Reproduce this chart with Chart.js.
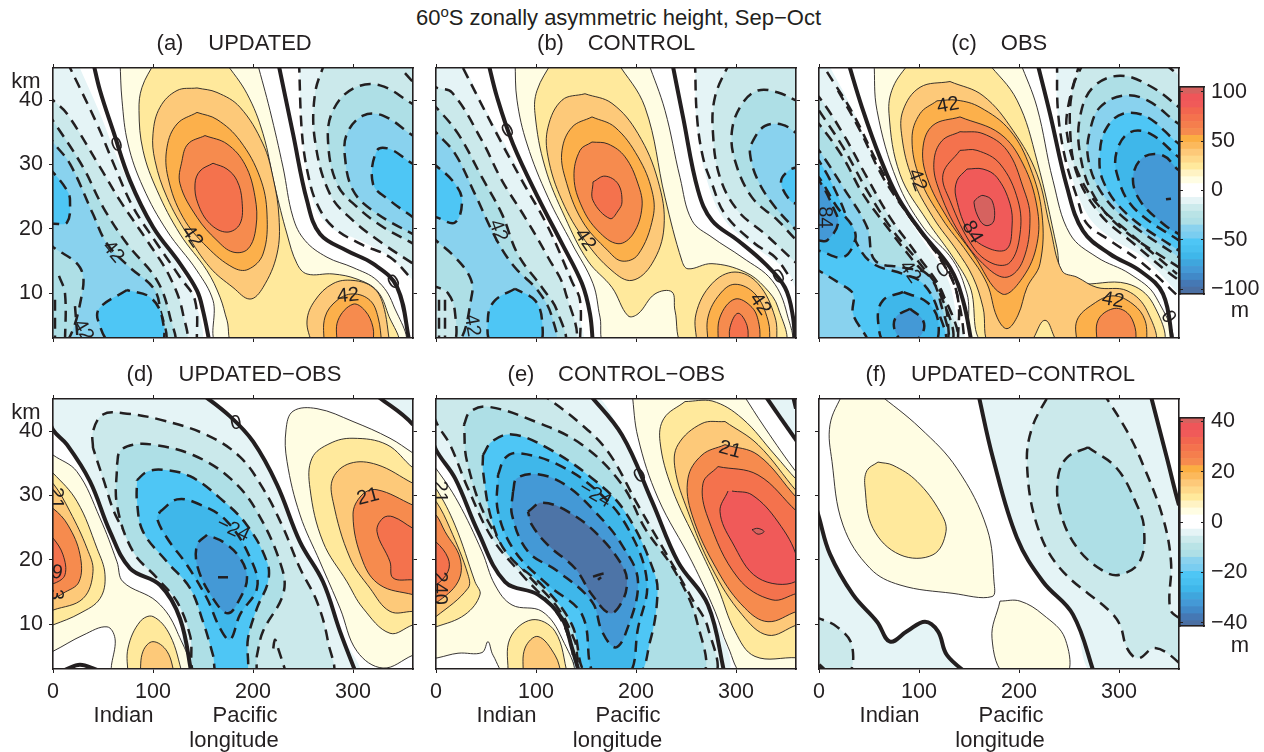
<!DOCTYPE html>
<html>
<head>
<meta charset="utf-8">
<title>60S zonally asymmetric height</title>
<script src="https://cdn.jsdelivr.net/npm/chart.js@4"></script>
<style>
  html, body { margin: 0; padding: 0; background: #fff; }
  body { position: relative; width: 1264px; height: 752px; overflow: hidden; }
  canvas { position: absolute; }
  .txt { position: absolute; transform: translate(-50%, -50%); white-space: nowrap; color: #231f20;
         font: 22px "Liberation Sans", Arial, sans-serif; }
  .txt sup { font-size: 15px; vertical-align: 8px; line-height: 0; }
</style>
</head>
<body>
<script>
// axis ticks
const lonTicks = [0, 100, 200, 300];
const kmTicks = [10, 20, 30, 40];
const barTicksTop = [-100, -50, 0, 50, 100];
const barTicksBottom = [-40, -20, 0, 20, 40];

// colour bar bands (metres), low to high
const barEdgesTop = [-105,-98,-91,-84,-77,-70,-63,-56,-49,-42,-35,-28,-21,-14,-7,0,7,14,21,28,35,42,49,56,63,70,77,84,91,98,105];
const barEdgesBottom = [-42,-39.2,-36.4,-33.6,-30.8,-28,-25.2,-22.4,-19.6,-16.8,-14,-11.2,-8.4,-5.6,-2.8,0,2.8,5.6,8.4,11.2,14,16.8,19.6,22.4,25.2,28,30.8,33.6,36.4,39.2,42];
const barColors = ["#4a6fa3","#4578b4","#4189c8","#4499d6","#3fa6dd","#3fb7ea","#48c0f0","#4ec6f5","#7acdf0","#8ad2ee","#aedfe6","#b9e3e6","#cceaec","#e5f4f6","#ffffff","#ffffff","#fffde3","#fff3c4","#ffe99c","#fed98a","#fdc979","#fcb95c","#fbae42","#f68b4e","#f57e4d","#f4724d","#f2664f","#f05a59","#ef5659","#d6625f"];

// shading step -> colour
const bandColors = {
  "-8":"#4d74a7","-7":"#4499d6","-6":"#3fb7ea","-5":"#4ec6f5","-4":"#89d2ee","-3":"#aedfe6","-2":"#cbe9eb","-1":"#e5f4f6",
  "1":"#fffde3","2":"#ffe99c","3":"#fdc979","4":"#fcb04b","5":"#f68b4e","6":"#f4724d","7":"#f05a59","8":"#d6625f"
};

// (a) UPDATED: [band, [lon, km] outline]
const aShades = [
  [-1,[[24,46],[47,37.9],[67,30.1],[94,21.8],[124,14.6],[142,8.9],[144,2],[-6,2],[-6,46]]],
  [-2,[[-6,41],[0,40],[14,37.9],[47,29.6],[67,24.4],[94,18.2],[117,12.5],[130,6.8],[130,2],[-6,2]]],
  [-3,[[-6,38],[0,36.8],[30,29.6],[50,23.4],[74,17.7],[104,12],[117,6.3],[119,2],[-6,2]]],
  [-4,[[-6,35],[0,33.5],[17,30.1],[40,22.3],[54,17.7],[77,14],[100,10.9],[107,7.8],[109,2],[-6,2]]],
  [-3,[[-6,18],[0,17.2],[27,14],[29,9.9],[12,2],[-6,2]]],
  [-5,[[-6,29.5],[0,28.8],[14,26],[17,24.4],[14,21],[0,20.8],[-6,20.8]]],
  [-5,[[74,10.5],[47,7.8],[45,5.8],[60,2],[107,2],[109,6.3],[97,9.4],[74,10.5]]],
  [-1,[[246,46],[249,34.8],[260,24.4],[277,20.3],[307,18.2],[337,15.6],[360,12],[366,11],[366,46]]],
  [-2,[[272,46],[262,41],[262,33.7],[277,25.4],[300,21.3],[330,17.7],[360,14.6],[366,14],[366,46]]],
  [-3,[[366,39],[360,39.4],[327,42.3],[300,41.8],[280,38.4],[275,33.7],[284,27],[304,23.4],[330,20.3],[360,17.7],[366,17]]],
  [-4,[[366,34],[360,34.5],[330,37.6],[310,37.6],[294,34.8],[292,31.1],[300,26],[320,22.8],[360,19.2],[366,19]]],
  [-5,[[366,30],[360,30.1],[337,32.4],[324,32.2],[320,27],[337,24.4],[360,21.8],[366,21]]],
  [1,[[67,46],[69,40],[75,33.2],[90,26.5],[114,19.7],[144,13.5],[160,8.9],[167,2],[349,2],[340,8.3],[324,12],[300,14],[274,15.6],[252,18.2],[240,21.8],[230,29.6],[217,38.4],[204,46]]],
  [2,[[102,46],[89,42],[86,38.4],[90,32.2],[104,26],[127,19.2],[154,13.5],[167,9.4],[174,5.8],[182,2],[343,2],[335,6.8],[324,10.4],[304,12.2],[280,13],[254,13],[244,14.6],[234,19.2],[222,26.5],[210,34.8],[194,41],[172,46]]],
  [3,[[144,41.9],[124,41.5],[107,38.9],[100,34.8],[102,30.6],[114,24.9],[134,19.2],[157,14],[180,10.9],[197,9.1],[210,10.9],[224,16.1],[226,21.8],[220,28],[210,33.2],[187,38.9],[164,41.2],[144,41.9]]],
  [4,[[144,38.1],[124,36.3],[114,32.7],[115,28],[130,21.8],[154,17.2],[180,14],[195,13.7],[210,16.1],[214,22.3],[207,28],[187,33.7],[164,37],[144,38.1]]],
  [5,[[152,34.5],[135,33.2],[129,30.6],[127,27],[144,21.8],[164,18.2],[180,16.4],[195,16.9],[203,20.3],[202,25],[192,30],[174,33.2],[152,34.5]]],
  [6,[[160,30.2],[147,29],[142,27],[145,23.9],[157,20.8],[174,19.5],[187,20.8],[189,24.4],[184,27.5],[174,29.3],[160,30.2]]],
  [3,[[259,2],[254,5.7],[262,8.9],[280,11.5],[300,12],[320,10.9],[330,8.3],[337,2]]],
  [4,[[271,2],[272,6.3],[284,8.9],[300,9.9],[317,8.9],[325,6.3],[329,2]]],
  [5,[[284,2],[285,5.8],[300,8.3],[312,7.3],[320,4.7],[320,2]]]
];
const aZero = [
  [[40,46],[47,41.5],[60,35.3],[77,27.5],[100,20.3],[127,14.6],[144,10.4],[150,7.3],[157,2]],
  [[225,46],[240,34.8],[254,24.4],[267,19.2],[294,16.6],[320,14.6],[344,11],[357,2]]
];
const aDash = [
  [[14,46],[44,36.3],[62,29.6],[80,23.4],[104,17.7],[127,12.5],[142,8.9],[144,2]],
  [[246,46],[249,34.8],[255,28.5],[264,23.9],[280,20.3],[307,17.7],[337,15.6],[360,12]],
  [[352,44.2],[360,42.8]],
  [[6,12.7],[12,10],[12,2]],
  [[2,9],[2,2]],
  [[22,8],[25,2]]
];
const aLabels = [["0",64,33,-20],["42",60,16.4,50],["42",139,18.8,55],["42",295,9.6,-5],["0",341,11.7,-30],["42",30,4.2,60]];

// (b) CONTROL
const bShades = [
  [-1,[[26,46],[52,37.9],[76,31.2],[102,23.4],[122,17.2],[139,11.5],[144,6.3],[144,2],[-6,2],[-6,46]]],
  [-2,[[-6,43],[0,42],[16,41.2],[46,33.7],[66,27.5],[89,21.8],[112,15.6],[129,10.4],[135,2],[-6,2]]],
  [-3,[[-6,39.5],[0,38.9],[22,34.8],[46,28],[66,22.3],[82,16],[106,10.9],[121,7.3],[126,2],[-6,2]]],
  [-4,[[-6,36],[0,35],[19,31.7],[39,25.4],[61,18.2],[79,14],[102,10.4],[116,6.3],[117,2],[-6,2]]],
  [-3,[[-6,19],[0,18.2],[19,15.6],[34,12.5],[36,9.9],[21,2],[-6,2]]],
  [-2,[[-6,11],[0,11],[12,10],[19,7],[17,2],[-6,2]]],
  [-5,[[-6,30],[0,29.8],[19,27],[26,24.4],[19,21],[0,21.8],[-6,22]]],
  [-5,[[79,10.7],[59,8.9],[52,6.3],[57,2],[102,2],[106,5.8],[99,8.9],[79,10.7]]],
  [-1,[[259,46],[261,35.8],[272,27],[289,21.3],[319,17.2],[351,13.5],[361,10.4],[366,10],[366,46]]],
  [-2,[[294,46],[279,40.5],[277,34.8],[284,28],[302,22.8],[329,19.2],[361,14.6],[366,14],[366,46]]],
  [-3,[[366,39.6],[361,39.9],[342,41.2],[322,41.5],[306,39.4],[296,35.3],[299,30.6],[316,24.9],[342,21.3],[361,18.2],[366,18]]],
  [-4,[[366,34],[361,34.8],[346,36.2],[329,36],[317,33.7],[314,31.7],[322,27.5],[339,23.4],[361,19.7],[366,19]]],
  [-5,[[366,29.8],[361,29.6],[352,29],[345,27.3],[354,24.4],[361,23.9],[366,23.9]]],
  [1,[[79,46],[81,40],[91,33.2],[112,24.9],[136,17.7],[157,11.5],[164,6.3],[171,2],[352,2],[351,6.8],[336,12],[306,15.6],[276,18.7],[256,21.3],[244,28],[229,38.4],[212,46]]],
  [2,[[116,46],[101,41.5],[99,37.9],[109,29.6],[129,21.8],[152,15],[176,10.9],[192,6.5],[202,6.8],[219,9.9],[236,10.2],[239,7.3],[249,2],[347,2],[342,7.8],[329,10.9],[309,13.3],[276,14.6],[252,13.8],[246,15],[229,24.9],[209,38.9],[181,46]]],
  [3,[[149,41],[126,40],[112,35.8],[112,31.2],[126,24.4],[149,18.2],[176,13.5],[196,12],[216,14.6],[228,20.3],[222,27.5],[202,34.8],[176,39.5],[149,41]]],
  [4,[[156,37.4],[136,35.8],[126,32.2],[129,28],[146,21.3],[172,16.6],[186,15],[202,16],[217,21.8],[216,25.9],[202,31.2],[179,35.8],[156,37.4]]],
  [5,[[156,33.5],[144,32.2],[138,28],[146,23.4],[162,19.7],[182,17.7],[197,19.2],[206,23.4],[202,27],[189,31.2],[172,33.2],[156,33.5]]],
  [6,[[157,27.3],[157,24.4],[174,21.6],[182,22.8],[186,24.2],[182,27],[169,28.2],[157,27.3]]],
  [3,[[261,2],[260,6.8],[276,11.5],[299,13.3],[322,11.5],[339,6.3],[341,2]]],
  [4,[[272,2],[272,6.3],[284,9.9],[299,11.4],[319,9.9],[332,5.8],[334,2]]],
  [5,[[282,2],[284,6.3],[299,9.1],[316,7.8],[323,5.2],[324,2]]],
  [6,[[294,2],[294,4.7],[302,6.9],[311,5],[312,2]]]
];
const bZero = [
  [[52,46],[61,40.5],[77,33.2],[102,24.9],[126,17.7],[146,11.5],[154,6.8],[157,2]],
  [[236,46],[247,37.4],[262,26],[276,21.3],[302,18.2],[329,14.6],[349,10.9],[357,6.3],[359,2]]
];
const bDash = [
  [[27,45],[59,35.3],[86,27.5],[112,20.3],[136,11.8],[144,8.9],[144,2]],
  [[259,46],[261,37.4],[267,31.1],[276,27],[289,22.3],[319,17.7],[339,15.6],[356,12]],
  [[9,9],[9,2]],
  [[3,9],[3,2]]
];
const bLabels = [["0",72,35.2,-30],["42",149,18.3,55],["42",62,19.7,70],["0",343,12.5,-30],["42",324,8.3,55],["42",36,5,80]];

// (c) OBS
const cShades = [
  [-1,[[8,46],[34,38.4],[54,31.1],[78,24.4],[104,18.2],[128,12.5],[138,6.3],[144,2],[-6,2],[-6,46]]],
  [-2,[[-6,41],[0,40.5],[24,34.8],[48,28],[71,21.8],[98,16],[124,9.9],[134,2],[-6,2]]],
  [-3,[[-6,37],[0,36.3],[24,31.1],[44,25.4],[71,19.7],[94,15.1],[121,9.9],[129,2],[-6,2]]],
  [-4,[[-6,33],[0,32.2],[24,26.5],[48,20.3],[56,15.1],[84,14],[108,13],[121,8.9],[124,2],[-6,2]]],
  [-5,[[-6,31],[0,30.6],[21,24.4],[38,17.7],[54,14.6],[84,13],[104,11.5],[119,7.3],[123,2],[-6,2]]],
  [-4,[[-6,14],[0,13.5],[21,11.5],[34,9.9],[34,6.8],[48,2],[-6,2]]],
  [-6,[[-6,28.5],[0,28],[18,23.4],[34,20.3],[36,18.2],[24,15.6],[0,16.6],[-6,16.6]]],
  [-7,[[-6,27.7],[0,27.5],[14,23.4],[19,20.8],[8,18.2],[0,18.2],[-6,18.2]]],
  [-6,[[84,10.2],[64,8.9],[59,5.8],[68,2],[114,2],[119,5.8],[108,8.6],[84,10.2]]],
  [-7,[[91,7.6],[77,6.3],[76,4.2],[88,2],[103,3.7],[104,5.8],[91,7.6]]],
  [-1,[[237,46],[239,37.4],[248,30.6],[268,22.3],[291,18.7],[324,15.6],[360,9.9],[366,9],[366,46]]],
  [-2,[[265,46],[254,42],[251,35.8],[258,28.5],[281,22.3],[311,18.2],[360,12],[366,12],[366,42],[344,46]]],
  [-3,[[366,38],[360,38.9],[331,42.2],[301,43.8],[274,42],[261,37.4],[261,31.7],[274,25.4],[301,20.3],[360,14],[366,13.5]]],
  [-4,[[366,36],[360,36.3],[328,40],[304,40.7],[281,38.9],[271,35.3],[269,31.1],[281,26],[308,21.3],[360,15.6],[366,15]]],
  [-5,[[366,33],[360,33.2],[328,37.4],[304,37.9],[288,35.8],[281,32.2],[284,27.5],[308,22.3],[360,16.6],[366,16]]],
  [-6,[[366,30.5],[360,31.1],[331,34.8],[311,35],[298,32.2],[298,28.5],[314,23.4],[360,18.2],[366,18]]],
  [-7,[[366,29],[360,29.1],[344,31.4],[324,31.1],[314,28],[321,24.4],[344,20.8],[360,19.2],[366,19]]],
  [1,[[55,46],[58,38.4],[78,27.5],[104,20.3],[134,15.1],[148,9.9],[159,2],[349,2],[337,9.4],[311,13],[278,15.6],[251,19.2],[234,27.5],[218,38.9],[201,46]]],
  [2,[[91,46],[74,42],[70,37.9],[81,28.5],[108,21.3],[134,15.6],[151,11],[168,2],[341,2],[334,8.4],[308,11.5],[258,11.5],[243,12.8],[238,17],[218,30.6],[198,40],[168,46]]],
  [3,[[131,42.9],[101,42],[84,38.4],[83,34.2],[93,28],[114,21.8],[138,16.6],[154,12.5],[164,7.8],[171,2],[208,2],[226,5.8],[243,2],[334,2],[328,7.3],[308,10.4],[278,10.9],[258,12.5],[243,13.5],[231,20.3],[218,28.5],[194,35.3],[164,40.7],[131,42.9]]],
  [4,[[118,39.9],[101,37.9],[93,34],[101,27.8],[123,21.6],[148,16.4],[168,11.5],[178,6.3],[188,4.5],[199,6.6],[208,10.9],[221,14.6],[223,22.3],[211,29.6],[191,35.3],[161,38.9],[138,40],[118,39.9]]],
  [5,[[141,37.4],[114,36.1],[104,32.7],[108,28],[128,21.8],[154,16.1],[183,9.9],[204,12.5],[218,17.7],[218,23.4],[204,30.1],[181,34.8],[141,37.4]]],
  [6,[[141,35.1],[123,33.7],[115,30.6],[119,26.5],[141,19.2],[168,14],[188,12.5],[204,15.1],[211,21.8],[204,26.5],[188,32.2],[164,34.8],[141,35.1]]],
  [6,[[141,32.2],[124,28.5],[131,24.4],[154,17.2],[174,14.6],[191,14.8],[201,19.2],[199,24.4],[181,30.1],[158,32.2],[141,32.2]]],
  [7,[[148,29.3],[138,27.5],[137,24.9],[151,19.2],[171,16.9],[188,16.9],[193,20.3],[191,23.9],[178,28],[164,29.3],[148,29.3]]],
  [8,[[159,24.9],[164,25.2],[173,24.4],[175,21.3],[168,20.5],[161,21.3],[155,24.1],[159,24.9]]],
  [4,[[258,2],[258,5.8],[274,8.3],[294,9.6],[314,8.3],[326,5.8],[328,2]]],
  [5,[[278,2],[279,5.8],[294,7.6],[308,7],[316,4.7],[317,2]]]
];
const cZero = [
  [[29,46],[43,38.9],[61,31.1],[79,24.9],[104,19.2],[131,14],[144,8.9],[153,2]],
  [[218,46],[231,37.9],[248,26.5],[264,19.7],[291,16.1],[321,13.5],[344,9.9],[354,2]]
];
const cDash = [
  [[8,44.4],[34,37.9],[59,30.1],[84,23.4],[108,18.2],[131,13],[141,7.8],[146,2]],
  [[19,41.5],[41,35.3],[64,28],[91,21.8],[118,16.1],[138,9.9],[139,2]],
  [[0,38.4],[24,32.7],[48,26],[74,19.7],[101,14.6],[124,9.4],[131,2]],
  [[238,46],[239,38.2],[246,31.1],[258,24.9],[268,20.8],[291,18.2],[324,14.6],[360,9.4]],
  [[261,46],[249,38.9],[248,34.8],[258,29.1],[278,23.9],[308,19.7],[358,13]],
  [[347,24.6],[352,24.7]]
];
const cLabels = [["42",129,39.2,-10],["42",98,27.6,70],["84",153,19.5,60],["0",124,13.5,-30],["42",91,13.3,55],["84",6,21.8,90],["42",294,8.9,10],["0",349,6.3,60]];

// (d) UPDATED-OBS
const dShades = [
  [-1,[[-6,43],[0,40.2],[14,37.9],[37,32.2],[57,24.4],[77,18.7],[107,16.1],[127,10.9],[139,2],[304,2],[287,8.9],[270,16.6],[247,22.8],[224,31.7],[200,38.4],[177,42.3],[147,46],[-6,46]]],
  [-1,[[324,46],[360,41],[366,38],[366,46]]],
  [-2,[[40,37.4],[40,40],[50,42.6],[70,42.8],[107,41.8],[154,39.4],[187,36],[210,31.1],[229,25.4],[247,18.7],[264,13.5],[275,7.3],[277,2],[154,2],[150,6.8],[144,10.4],[134,14.6],[114,17.7],[87,21.3],[64,26.5],[50,32.7],[40,37.4]]],
  [-3,[[64,34.8],[67,36.9],[80,37.9],[100,37.9],[140,36.3],[177,32.7],[204,27.5],[229,18.7],[230,14.6],[210,8.9],[204,5.2],[200,2],[144,2],[137,8.3],[124,13.5],[104,17.2],[80,21.3],[64,28.5],[64,34.8]]],
  [-5,[[84,32.4],[94,33.7],[110,34],[137,33],[167,29.6],[194,25.4],[214,19.7],[215,16.6],[204,12.5],[195,7.8],[192,2],[165,2],[160,5.2],[150,10.4],[137,15.6],[114,19.7],[90,24.4],[84,29],[84,32.4]]],
  [-6,[[107,27.5],[124,29.4],[144,28.8],[174,26],[199,19.7],[204,15.6],[187,11.5],[177,7.6],[167,9.4],[154,14],[134,19.2],[114,23.4],[104,26.5],[107,27.5]]],
  [-7,[[154,23.9],[144,22.3],[145,18.7],[160,14],[175,11.7],[187,14],[194,17.2],[187,20.3],[170,22.8],[154,23.9]]],
  [1,[[366,36],[360,36.6],[337,38.9],[300,41.5],[264,43.5],[240,43.1],[233,40.2],[234,35.3],[247,27],[267,19.7],[287,12.5],[304,5.8],[330,3.2],[360,5.2],[366,5.5]]],
  [2,[[366,34],[360,34.3],[334,37.9],[300,38.9],[277,38.1],[259,35.8],[257,31.1],[270,22.8],[294,16.6],[310,12.5],[337,8.6],[360,9.9],[366,10]]],
  [3,[[366,31.5],[360,31.9],[324,34.8],[297,35],[280,32.7],[280,29.1],[297,20.3],[317,15.6],[337,12],[360,12],[366,12]]],
  [5,[[366,28],[360,28.5],[324,30.9],[309,30.1],[300,27],[310,19.7],[327,16.1],[360,14.6],[366,14.5]]],
  [6,[[366,24.5],[360,24.9],[340,26.7],[330,26.5],[324,24.4],[337,19.7],[340,17.2],[360,16.9],[366,16.9]]],
  [1,[[-6,37],[0,36.3],[24,33.7],[47,26.5],[64,19.7],[70,16.6],[104,13.5],[124,8.9],[135,2],[62,2],[62,7.8],[54,9.6],[30,8.3],[0,5.8],[-6,5.5]]],
  [2,[[-6,34],[0,33.5],[24,29.1],[44,21.8],[52,17.7],[47,14],[27,11.7],[0,9.9],[-6,9.7]]],
  [3,[[-6,32],[0,31.9],[17,27.5],[34,21.8],[40,18.2],[30,14],[0,12.2],[-6,12]]],
  [5,[[-6,28],[0,28],[15,25.4],[27,20.8],[26,16.6],[10,14.8],[0,14],[-6,14]]],
  [6,[[-6,24],[0,23.4],[10,20.8],[12,17.7],[2,16.4],[-6,16.4]]],
  [2,[[75,2],[75,6.3],[87,10.4],[100,11.2],[117,8.3],[130,2]]],
  [3,[[87,2],[90,5.8],[100,7.3],[114,5.8],[122,2]]]
];
const dZero = [
  [[-6,43],[0,40.2],[14,37.9],[37,32.2],[57,24.4],[77,18.7],[107,16.1],[127,10.9],[139,2]],
  [[147,46],[177,42.3],[200,38.4],[224,31.7],[247,22.8],[270,16.6],[287,8.9],[304,2]],
  [[324,45.5],[360,41],[366,38]],
  [[12,2.9],[27,3.7],[44,2.9]]
];
const dDash = [
  [[165,17.3],[175,17.3]],
  [[234,2],[225,6.3],[222,7.6],[220,6]]
];
const dLabels = [["0",183,41.2,-10],["21",315,29.8,-15],["−24",180,24.7,25],["21",3,29.6,90],["9",4,18,10],["3",3,14.6,90]];

// (e) CONTROL-OBS
const eShades = [
  [-1,[[-6,40],[0,37.1],[19,32.7],[42,24.4],[69,16.6],[102,14.6],[126,10.9],[136,6.3],[144,2],[289,2],[272,13],[242,19.7],[216,29.1],[186,39.4],[152,46],[-6,46]]],
  [-1,[[327,46],[361,38.4],[366,36],[366,46]]],
  [-2,[[104,46],[142,41.5],[172,36.8],[202,28.5],[229,21.3],[256,14],[272,9.4],[276,2],[141,2],[136,6.3],[122,11.5],[86,17.7],[56,23.4],[32,31.1],[14,37.9],[0,41.5],[-8,46]]],
  [-3,[[28,41],[34,43],[52,43.8],[99,41.5],[146,37.9],[186,31.7],[209,24.9],[239,18.2],[261,10.4],[264,2],[149,2],[139,7.3],[122,12.5],[89,18.2],[52,26],[31,35.3],[28,41]]],
  [-5,[[47,36.3],[56,38.4],[76,39.5],[109,37.6],[156,32.7],[189,27.5],[219,17.7],[221,13.5],[214,7.3],[201,2],[152,2],[136,9.9],[109,15.6],[72,20.8],[56,26],[47,33.8],[47,36.3]]],
  [-6,[[62,33.2],[69,35.8],[82,36.6],[122,34.8],[162,30.6],[192,24.9],[211,16.6],[202,9.4],[192,2],[159,2],[146,11.5],[112,16.1],[79,21.3],[62,27.5],[62,33.2]]],
  [-7,[[77,30.6],[81,32.7],[102,33.3],[129,31.7],[159,27.5],[186,22.3],[202,16.6],[189,8.3],[179,6.4],[166,8.9],[156,13.5],[122,18.2],[92,21.3],[76,27],[77,30.6]]],
  [-8,[[92,27.5],[106,28.9],[132,27.5],[162,23.9],[186,19.2],[191,16.6],[186,13.5],[174,11.7],[156,14.6],[139,18.7],[112,22.3],[96,25.4],[92,27.5]]],
  [1,[[196,46],[202,39],[222,29.6],[256,19.7],[279,12],[292,6.5],[309,2],[366,2],[366,33],[361,33.5],[329,40.5],[306,46]]],
  [2,[[249,44.6],[276,44.7],[306,42],[339,36.3],[361,32.4],[366,32],[366,4.6],[361,4.8],[319,5],[299,8.9],[282,15.6],[262,22.3],[236,31.1],[224,38.4],[228,42],[249,44.6]]],
  [3,[[289,41.5],[266,41.2],[242,37.9],[239,34.2],[252,27.5],[276,18.7],[306,11.5],[332,8.3],[361,9.9],[366,10],[366,30],[361,30.6],[322,37.9],[289,41.5]]],
  [5,[[289,37.9],[266,36.3],[252,32.7],[256,27],[282,18.2],[309,12.5],[332,10.4],[361,12],[366,12],[366,29],[361,29.6],[322,36.3],[289,37.9]]],
  [6,[[282,34.5],[267,31.9],[272,26.5],[302,17.2],[336,13.8],[361,14.8],[366,15],[366,27],[361,27.5],[322,33.2],[282,34.5]]],
  [7,[[292,30.7],[284,27.5],[296,22.8],[322,17.2],[359,16.6],[361,20.3],[342,25.9],[316,30.1],[296,30.7]]],
  [8,[[316,24.7],[322,24.9],[328,24.4],[322,24],[316,24.7]]],
  [1,[[-6,35],[0,34.2],[22,29],[46,21.3],[59,16.1],[76,13],[106,12],[126,7.8],[136,2],[72,2],[57,5.2],[52,7.3],[46,5.6],[22,5.5],[2,4.8],[-6,4.6]]],
  [2,[[-6,31.5],[0,31.1],[19,25.4],[39,16.6],[44,14.6],[29,11.5],[0,9.6],[-6,9.6]]],
  [3,[[-6,29.5],[0,29.1],[14,24.9],[32,17.7],[32,15.6],[0,11.2],[-6,11]]],
  [5,[[-6,27.3],[0,27],[9,24.4],[24,20.3],[22,16.6],[0,13.3],[-6,13.3]]],
  [6,[[-6,23],[0,22.8],[12,20.3],[12,18.2],[0,16.1],[-6,16.1]]],
  [2,[[72,2],[74,7.8],[96,10.7],[119,8.9],[132,2]]],
  [3,[[87,2],[89,6.3],[102,8.1],[119,5.2],[126,2]]]
];
const eZero = [
  [[-6,40],[0,37.1],[19,32.7],[42,24.4],[69,16.6],[102,14.6],[126,10.9],[136,6.3],[144,2]],
  [[152,46],[186,39.4],[216,29.1],[242,19.7],[272,13],[289,2]],
  [[327,46],[361,38.4]],
  [[357,45.5],[360,43.5]]
];
const eDash = [
  [[157,17.4],[169,17.9],[162,16.9]]
];
const eLabels = [["0",204,33,-30],["21",294,37.1,15],["−24",159,30.1,30],["21",4,30.6,90],["240",4,15.6,90]];

// (f) UPDATED-CONTROL
const fShades = [
  [-1,[[-6,30],[0,26.6],[11,20.9],[34,14.6],[58,10.4],[71,7.3],[88,8.9],[106,10.4],[119,8.9],[128,5.2],[151,2],[-6,2]]],
  [-1,[[159,46],[174,35.8],[198,23.4],[224,16.6],[254,11.5],[276,2],[366,2],[366,26],[360,28.5],[348,35.8],[331,46]]],
  [-2,[[-6,11],[0,10.9],[18,9.6],[33,6.7],[28,2],[-6,2]]],
  [-2,[[284,46],[308,40],[324,34.8],[344,26.5],[352,19.7],[351,12.5],[360,11],[366,11],[366,2],[360,4],[336,6.3],[319,4.7],[308,6.3],[301,9.9],[291,12],[241,18.7],[218,25.4],[208,34.8],[213,40.5],[231,46]]],
  [-3,[[269,37.5],[248,35.9],[239,32.8],[241,27.6],[258,21.9],[284,18.3],[301,17.7],[321,19.8],[325,25],[318,28.5],[298,34.2],[269,37.5]]],
  [1,[[24,46],[11,41],[13,35.3],[24,25.4],[51,18.7],[81,16.1],[134,14.8],[173,14.3],[175,16.6],[168,24.9],[138,34.2],[101,40.5],[58,46]]],
  [2,[[59,35.2],[48,33.9],[46,31.3],[54,24.9],[81,20.8],[114,20.8],[127,24.4],[121,27.5],[98,32.2],[74,34.7],[59,35.2]]],
  [1,[[181,13.6],[173,7.8],[188,2],[246,2],[246,7.8],[224,11.5],[201,13.6],[181,13.6]]]
];
const fZero = [
  [[-6,30],[0,26.6],[11,20.9],[34,14.6],[58,10.4],[71,7.3],[88,8.9],[106,10.4],[119,8.9],[128,5.2],[151,2]],
  [[159,46],[174,35.8],[198,23.4],[224,16.6],[254,11.5],[276,2]],
  [[331,46],[348,35.8],[360,28.5],[366,26]],
  [[0,3.7],[8,2.5]]
];
const fDash = [];
const fLabels = [];

const INK = "#231f20";
const FONT = '"Liberation Sans", Arial, sans-serif';
const DASHED = { borderColor: INK, borderWidth: 2.5, borderDash: [11, 7] };

function toPoints(pts) {
  return pts.map(p => ({ x: p[0], y: p[1] }));
}

function setTicks(values) {
  return scale => { scale.ticks = values.map(v => ({ value: v })); };
}

function frameAxis(position, values, min, max, size, showLabels, pad) {
  const vertical = position === "left" || position === "right";
  return {
    type: "linear", position, min, max,
    afterBuildTicks: setTicks(values),
    afterFit: s => { if (vertical) s.width = size; else s.height = size; },
    grid: { drawOnChartArea: false, drawTicks: true, tickLength: 4, tickColor: INK, tickWidth: 1, z: 1 },
    border: { display: true, color: INK, width: 1.6, z: 1 },
    ticks: { display: showLabels, color: INK, padding: pad, maxRotation: 0, autoSkip: false,
             font: { family: FONT, size: 21.5 }, callback: v => String(v) }
  };
}

const contourLabels = {
  id: "contourLabels",
  afterDatasetsDraw(chart, args, opts) {
    const { ctx, scales, chartArea } = chart;
    ctx.save();
    ctx.beginPath();
    ctx.rect(chartArea.left, chartArea.top, chartArea.width, chartArea.height);
    ctx.clip();
    ctx.fillStyle = INK;
    ctx.font = "20px " + FONT;
    ctx.textAlign = "center";
    ctx.textBaseline = "middle";
    opts.items.forEach(([txt, lon, km, deg]) => {
      ctx.save();
      ctx.translate(scales.x.getPixelForValue(lon), scales.y.getPixelForValue(km));
      ctx.rotate(deg * Math.PI / 180);
      ctx.fillText(txt, 0, 0);
      ctx.restore();
    });
    ctx.restore();
  }
};

function lineSet(pts, extra) {
  return Object.assign({
    data: toPoints(pts), showLine: true, fill: false, pointRadius: 0, tension: 0.38,
    borderCapStyle: "butt", borderJoinStyle: "round"
  }, extra);
}

function drawPanel(left, top, shades, zero, dash, labels, showX, showY) {
  const sets = [];
  shades.forEach(([band, pts]) => {
    const stroke = band > 0 ? { borderColor: INK, borderWidth: 0.9 }
      : band === -1 ? { borderWidth: 0 }
      : DASHED;
    sets.push(lineSet(pts, Object.assign({ fill: "shape", backgroundColor: bandColors[band] }, stroke)));
  });
  dash.forEach(pts => sets.push(lineSet(pts, DASHED)));
  zero.forEach(pts => sets.push(lineSet(pts, { borderColor: INK, borderWidth: 4 })));
  sets.reverse(); // chart.js paints the first dataset last

  const cv = document.createElement("canvas");
  cv.width = 53 + 360 + 12;
  cv.height = 20 + 270 + 44;
  cv.style.left = (left - 53) + "px";
  cv.style.top = (top - 20) + "px";
  document.body.appendChild(cv);

  new Chart(cv, {
    type: "scatter",
    data: { datasets: sets },
    plugins: [contourLabels],
    options: {
      responsive: false, animation: false, events: [],
      layout: { padding: 0 },
      plugins: { legend: { display: false }, tooltip: { enabled: false }, contourLabels: { items: labels } },
      scales: {
        x: frameAxis("bottom", lonTicks, 0, 360, 44, showX, 6),
        xTop: frameAxis("top", lonTicks, 0, 360, 20, false, 0),
        y: frameAxis("left", kmTicks, 3.05, 45, 53, showY, 6),
        yRight: frameAxis("right", kmTicks, 3.05, 45, 12, false, 0)
      }
    }
  });
}

function drawBar(top, height, edges, ticks, range) {
  const cv = document.createElement("canvas");
  cv.width = 2 + 24 + 60;
  cv.height = 24 + height + 24;
  cv.style.left = "1178px";
  cv.style.top = (top - 24) + "px";
  document.body.appendChild(cv);

  const plain = (position, size) => ({
    position, display: true,
    afterFit: s => { if (position === "left") s.width = size; else s.height = size; },
    ticks: { display: false }, grid: { display: false },
    border: { display: true, color: INK, width: 1.6, z: 1 }
  });

  new Chart(cv, {
    type: "bar",
    data: {
      labels: ["m"],
      datasets: barColors.map((c, i) => ({
        data: [[edges[i], edges[i + 1]]], backgroundColor: c, borderWidth: 0,
        grouped: false, barPercentage: 1, categoryPercentage: 1
      }))
    },
    options: {
      responsive: false, animation: false, events: [],
      layout: { padding: 0 },
      plugins: { legend: { display: false }, tooltip: { enabled: false } },
      scales: {
        x: Object.assign(plain("bottom", 24), { type: "category" }),
        xTop: Object.assign(plain("top", 24), { type: "category", labels: ["m"] }),
        y: {
          type: "linear", position: "right", min: -range, max: range,
          afterBuildTicks: setTicks(ticks),
          afterFit: s => { s.width = 60; },
          grid: { drawOnChartArea: true, drawTicks: false, color: INK, lineWidth: 1, z: 1 },
          border: { display: true, color: INK, width: 1.6, dash: [3, 18, 3], z: 1 },
          ticks: { color: INK, padding: 7, autoSkip: false, maxRotation: 0, font: { family: FONT, size: 21.5 },
                   callback: v => (v < 0 ? "−" + (-v) : String(v)) }
        },
        yLeft: Object.assign(plain("left", 2), { type: "linear", min: -range, max: range })
      }
    }
  });
}

drawPanel(53, 68, aShades, aZero, aDash, aLabels, false, true);
drawPanel(436, 68, bShades, bZero, bDash, bLabels, false, false);
drawPanel(819, 68, cShades, cZero, cDash, cLabels, false, false);
drawPanel(53, 399, dShades, dZero, dDash, dLabels, true, true);
drawPanel(436, 399, eShades, eZero, eDash, eLabels, true, false);
drawPanel(819, 399, fShades, fZero, fDash, fLabels, true, false);

drawBar(87, 207, barEdgesTop, barTicksTop, 105);
drawBar(418, 208, barEdgesBottom, barTicksBottom, 41.3);

// page text: [html, centre x, centre y]
const pageText = [
  ["60<sup>o</sup>S zonally asymmetric height, Sep−Oct", 618.5, 18],
  ["(a)", 170, 43], ["UPDATED", 260, 43],
  ["(b)", 550.5, 43], ["CONTROL", 641.5, 43],
  ["(c)", 964, 43], ["OBS", 1024, 43],
  ["(d)", 140, 374], ["UPDATED−OBS", 260, 374],
  ["(e)", 521, 374], ["CONTROL−OBS", 641.5, 374],
  ["(f)", 876, 374], ["UPDATED−CONTROL", 1023, 374],
  ["km", 26, 81], ["km", 26, 412],
  ["m", 1240, 310], ["m", 1240, 645],
  ["Indian", 123.5, 715], ["Pacific", 245, 715], ["longitude", 234, 740],
  ["Indian", 506.5, 715], ["Pacific", 628, 715], ["longitude", 617.5, 740],
  ["Indian", 889.5, 715], ["Pacific", 1011, 715], ["longitude", 1000, 740]
];
pageText.forEach(([html, x, y]) => {
  const el = document.createElement("div");
  el.className = "txt";
  el.innerHTML = html;
  el.style.left = x + "px";
  el.style.top = y + "px";
  document.body.appendChild(el);
});
</script>
</body>
</html>
